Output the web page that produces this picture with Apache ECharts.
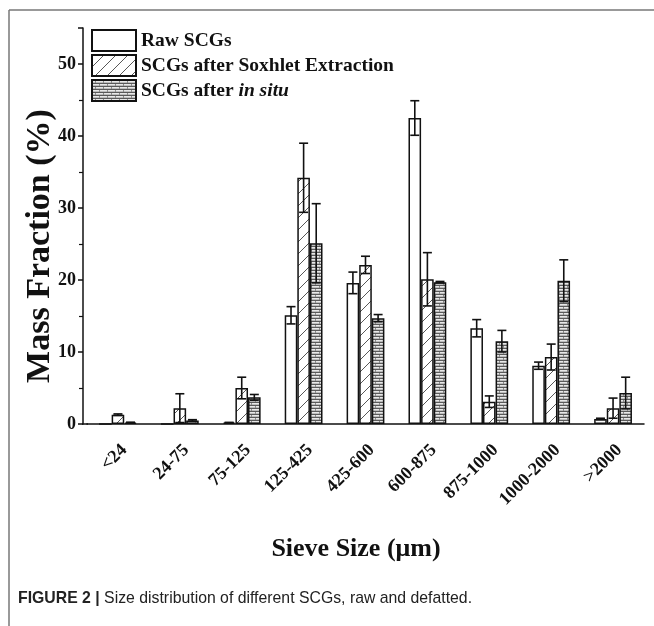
<!DOCTYPE html>
<html>
<head>
<meta charset="utf-8">
<script src="https://cdn.jsdelivr.net/npm/echarts@6/dist/echarts.min.js"></script>
<style>
html,body{margin:0;padding:0;background:#fff;}
#c{width:654px;height:626px;}
</style>
</head>
<body>
<div id="c"></div>
<script>
// ---- data ----
var categories = ['<24','24-75','75-125','125-425','425-600','600-875','875-1000','1000-2000','>2000'];
var seriesNames = ['Raw SCGs','SCGs after Soxhlet Extraction','SCGs after in situ'];
var rawValues   = [0,   0,   0.2, 15.1, 19.6, 42.5, 13.3, 8.1, 0.7];
var rawErr      = [0,   0,   0,   1.2,  1.5,  2.4,  1.2,  0.5, 0.1];
var soxValues   = [1.3, 2.2, 5.0, 34.2, 22.1, 20.1, 3.1,  9.3, 2.2];
var soxErr      = [0.1, 2.0, 1.5, 4.8,  1.2,  3.7,  0.8,  1.8, 1.4];
var situValues  = [0.2, 0.5, 3.7, 25.1, 14.7, 19.7, 11.5, 19.9, 4.3];
var situErr     = [0.05,0.1, 0.4, 5.5,  0.5,  0.1,  1.5,  2.9, 2.2];
var xTitle = 'Sieve Size (\u03bcm)';
var yTitle = 'Mass Fraction (%)';
var caption = ['FIGURE 2 |', ' Size distribution of different SCGs, raw and defatted.'];

// ---- patterns ----
function hatchCanvas(){
  var c = document.createElement('canvas'); c.width = 12; c.height = 12;
  var g = c.getContext('2d');
  g.fillStyle = '#fff'; g.fillRect(0,0,12,12);
  g.strokeStyle = '#444'; g.lineWidth = 0.9;
  g.beginPath();
  g.moveTo(-1,13); g.lineTo(13,-1);
  g.moveTo(-7,7); g.lineTo(7,-7);
  g.moveTo(5,19); g.lineTo(19,5);
  g.stroke();
  return c;
}
function brickCanvas(){
  var c = document.createElement('canvas'); c.width = 8; c.height = 6;
  var g = c.getContext('2d');
  g.fillStyle = '#bdbdbd'; g.fillRect(0,0,8,6);
  g.fillStyle = '#e8e8e8';
  g.fillRect(0,1,8,1); g.fillRect(0,4,8,1);
  g.fillStyle = '#5a5a5a';
  g.fillRect(0,0,8,1); g.fillRect(0,3,8,1);
  g.fillStyle = '#8a8a8a';
  g.fillRect(3,1,1,2); g.fillRect(7,4,1,2);
  return c;
}
var hatch = {image: hatchCanvas(), repeat: 'repeat'};
var brick = {image: brickCanvas(), repeat: 'repeat'};

var barW = 12.6;
var serif = '"Liberation Serif","Times New Roman",serif';

function errData(vals, errs){
  return vals.map(function(v,i){ return [i, v, errs[i]]; });
}
function errSeries(vals, errs, k){
  return {
    type: 'custom',
    z: 10,
    silent: true,
    data: errData(vals, errs),
    renderItem: function(params, api){
      var i = api.value(0), v = api.value(1), e = api.value(2);
      if (v <= 0) return;
      var c = api.coord([i, v]);
      var hi = api.coord([i, v + e]);
      var lo = api.coord([i, Math.max(v - e, 0)]);
      var x = c[0] + (k - 1) * barW;
      var cap = 4.5;
      var st = {stroke: '#111', lineWidth: 1.6};
      return {
        type: 'group',
        children: [
          {type: 'line', shape: {x1: x, y1: hi[1], x2: x, y2: lo[1]}, style: st},
          {type: 'line', shape: {x1: x - cap, y1: hi[1], x2: x + cap, y2: hi[1]}, style: st},
          {type: 'line', shape: {x1: x - cap, y1: lo[1], x2: x + cap, y2: lo[1]}, style: st}
        ]
      };
    }
  };
}

var chart = echarts.init(document.getElementById('c'));
chart.setOption({
  animation: false,
  backgroundColor: '#fff',
  grid: {left: 87, right: 10, top: 28, bottom: 202, containLabel: false},
  legend: {
    left: 86, top: 24, orient: 'vertical',
    itemWidth: 44, itemHeight: 21, itemGap: 2,
    icon: 'rect',
    data: seriesNames,
    textStyle: {fontFamily: serif, fontWeight: 'bold', fontSize: 19.5, color: '#111',
      rich: {it: {fontFamily: serif, fontWeight: 'bold', fontStyle: 'italic', fontSize: 19.5, color: '#111'}}},
    formatter: function(n){
      if (n === 'SCGs after in situ') return 'SCGs after {it|in situ}';
      return n;
    }
  },
  xAxis: {
    type: 'category',
    data: categories,
    axisLine: {lineStyle: {color: '#111', width: 1.5}},
    axisTick: {alignWithLabel: true, length: 6, lineStyle: {color: '#111', width: 1.5}},
    axisLabel: {rotate: 45, fontFamily: serif, fontWeight: 'bold', fontSize: 18, color: '#111',
      margin: 17, interval: 0, verticalAlign: 'top'},
    splitLine: {show: false}
  },
  yAxis: {
    type: 'value',
    min: 0, max: 55, interval: 10,
    offset: 4,
    axisLine: {show: true, lineStyle: {color: '#111', width: 1.5}},
    axisTick: {show: true, length: 5, lineStyle: {color: '#111', width: 1.5}},
    minorTick: {show: true, splitNumber: 2, length: 4, lineStyle: {color: '#111', width: 1.2}},
    axisLabel: {fontFamily: serif, fontWeight: 'bold', fontSize: 18, color: '#111', margin: 7, showMaxLabel: false},
    splitLine: {show: false}
  },
  series: [
    {name: seriesNames[0], type: 'bar', data: rawValues, barWidth: barW, barGap: '0%',
     itemStyle: {color: '#fff', borderColor: '#111', borderWidth: 1.5}},
    {name: seriesNames[1], type: 'bar', data: soxValues, barWidth: barW, barGap: '0%',
     itemStyle: {color: hatch, borderColor: '#111', borderWidth: 1.5}},
    {name: seriesNames[2], type: 'bar', data: situValues, barWidth: barW, barGap: '0%',
     itemStyle: {color: brick, borderColor: '#111', borderWidth: 1.5}},
    errSeries(rawValues, rawErr, 0),
    errSeries(soxValues, soxErr, 1),
    errSeries(situValues, situErr, 2)
  ],
  graphic: [
    {type: 'line', shape: {x1: 9, y1: 10, x2: 654, y2: 10}, style: {stroke: '#777', lineWidth: 1.5}},
    {type: 'line', shape: {x1: 9, y1: 10, x2: 9, y2: 626}, style: {stroke: '#777', lineWidth: 1.5}},
    {type: 'line', shape: {x1: 82, y1: 424, x2: 88, y2: 424}, style: {stroke: '#111', lineWidth: 1.5}},
    {type: 'text', x: 40, y: 246, rotation: Math.PI / 2,
     style: {text: yTitle, align: 'center', verticalAlign: 'middle',
       font: 'bold 34px "Liberation Serif","Times New Roman",serif', fill: '#111'}},
    {type: 'text', x: 356, y: 549,
     style: {text: xTitle, align: 'center', verticalAlign: 'middle',
       font: 'bold 26px "Liberation Serif","Times New Roman",serif', fill: '#111'}},
    {type: 'text', x: 18, y: 598, scaleX: 0.93,
     style: {
       text: '{b|' + caption[0] + '}' + caption[1],
       verticalAlign: 'middle',
       rich: {
         b: {fontFamily: '"Liberation Sans",Arial,sans-serif', fontWeight: 'bold', fontSize: 17, fill: '#222'}
       },
       fontFamily: '"Liberation Sans",Arial,sans-serif', fontSize: 17, fill: '#222'
     }}
  ]
});
</script>
</body>
</html>
